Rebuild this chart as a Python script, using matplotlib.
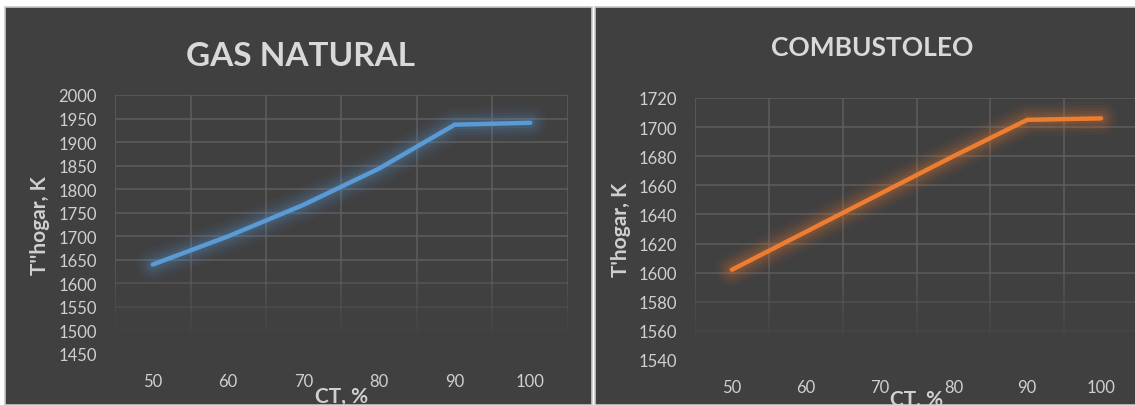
import numpy as np
import matplotlib
matplotlib.use("Agg")
import matplotlib.pyplot as plt
from matplotlib.patches import Rectangle
from matplotlib.collections import LineCollection
from matplotlib.colors import to_rgb

# data
ct_labels = ["50", "60", "70", "80", "90", "100"]
gas_natural = [1640, 1700, 1767, 1844, 1937, 1941]
combustoleo = [1602, 1628, 1654, 1680, 1705, 1706]
gas_yticks = list(range(1450, 2001, 50))
comb_yticks = list(range(1540, 1721, 20))

W, H = 1135, 406
BG = "#404040"
TXT = "#D0D0D0"
GRID = "#5E5E5E"

plt.rcParams["font.family"] = ["Lato", "DejaVu Sans"]

fig = plt.figure(figsize=(W / 100, H / 100), dpi=100, facecolor="white")


def fx(px):
    return px / W


def fy(px):
    return 1 - px / H


def grid_alpha(f):
    # gridlines fade out towards the bottom of the plot area
    return float(np.clip((f - 0.05) / 0.32, 0, 1))


# dark chart panels with their thin light borders (behind the axes)
fig.patches.append(Rectangle((fx(5), 0), fx(587), fy(8), transform=fig.transFigure,
                             facecolor=BG, edgecolor="#C8C8C8", linewidth=1.2, zorder=-5))
fig.patches.append(Rectangle((fx(595), 0), fx(545), fy(8), transform=fig.transFigure,
                             facecolor=BG, edgecolor="#C8C8C8", linewidth=1.2, zorder=-5))


def draw_panel(ax, values, yticks, color, ylabel, label_y):
    x = np.arange(len(values))
    x0, x1 = -0.5, len(values) - 0.5
    y0, y1 = yticks[0], yticks[-1]
    ax.set_facecolor("none")
    ax.set_xlim(x0, x1)
    ax.set_ylim(y0, y1)
    ax.set_yticks(yticks)
    ax.set_xticks(x)
    ax.set_xticklabels(ct_labels)
    ax.tick_params(axis="both", which="both", length=0, colors=TXT, labelsize=12)
    ax.tick_params(axis="y", pad=13)
    ax.tick_params(axis="x", pad=14)
    for s in ax.spines.values():
        s.set_visible(False)

    grid_rgb = to_rgb(GRID)
    # horizontal gridlines, one per y tick
    for yv in yticks:
        a = grid_alpha((yv - y0) / (y1 - y0))
        if a > 0:
            ax.axhline(yv, color=grid_rgb, alpha=a, linewidth=1.1, zorder=0.5)
    # vertical gridlines between categories, fading downwards
    fs = np.linspace(0, 1, 61)
    segs, cols = [], []
    for xb in np.arange(x0, x1 + 0.01, 1.0):
        for i in range(len(fs) - 1):
            segs.append([(xb, fs[i]), (xb, fs[i + 1])])
            cols.append((*grid_rgb, grid_alpha((fs[i] + fs[i + 1]) / 2)))
    ax.add_collection(LineCollection(segs, colors=cols, linewidths=1.1,
                                     transform=ax.get_xaxis_transform(), zorder=0.5))

    # soft glow under the line
    for lw, a in [(24, 0.045), (19, 0.055), (15, 0.065), (11, 0.08), (7, 0.12)]:
        ax.plot(x, values, color=color, linewidth=lw, alpha=a,
                solid_capstyle="round", solid_joinstyle="round", zorder=2)
    ax.plot(x, values, color=color, linewidth=3.2, solid_capstyle="round",
            solid_joinstyle="miter", zorder=3)
    ax.set_xlim(x0, x1)
    ax.set_ylim(y0, y1)

    ax.set_xlabel("CT, %", color=TXT, fontsize=15, fontweight="bold")
    ax.xaxis.label.set_va("center")
    ax.xaxis.set_label_coords(0.5, label_y)
    ax.set_ylabel(ylabel, color=TXT, fontsize=15, fontweight="bold")
    ax.yaxis.label.set_va("center")
    ax.yaxis.set_label_coords(-0.166, 0.5)


# left chart: plot area 115..568 px wide, 96..355 px high
ax1 = fig.add_axes([fx(115), fy(355), fx(453), fy(96) - fy(355)])
draw_panel(ax1, gas_natural, gas_yticks, "#5B9BD5", "T''hogar, K", -0.162)

# right chart: plot area 695..1138 px wide, 99..361 px high
ax2 = fig.add_axes([fx(695), fy(361), fx(443), fy(99) - fy(361)])
draw_panel(ax2, combustoleo, comb_yticks, "#ED7D31", "T'hogar, K", -0.15)

fig.text(fx(300), fy(56), "GAS NATURAL", color="#D9D9D9", fontsize=24,
         fontweight="bold", ha="center", va="center")
fig.text(fx(872), fy(48), "COMBUSTOLEO", color="#D9D9D9", fontsize=19,
         fontweight="bold", ha="center", va="center")

fig.savefig("out.png", dpi=100, facecolor="white")
